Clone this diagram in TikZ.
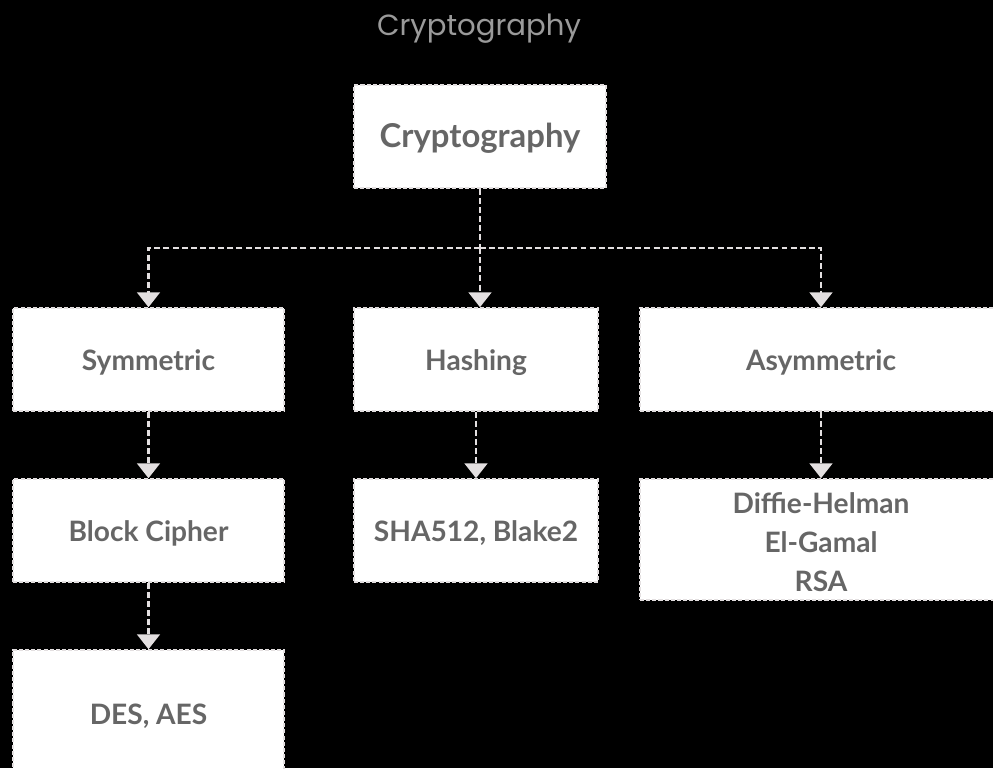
\documentclass[tikz,border=0pt]{standalone}
\usepackage{fontspec}
\setmainfont{Lato}
\newfontfamily\titlefont{Poppins}
\usetikzlibrary{arrows.meta, positioning, calc}
\definecolor{edgegray}{HTML}{E3DFE0}
\definecolor{textgray}{HTML}{666666}
\definecolor{titlegray}{HTML}{9A9A9A}
\tikzstyle{box} = [
    rectangle,
    draw=edgegray,
    fill=white,
    line width=0.9pt,
    dash pattern=on 2.3pt off 1.2pt,
    text=textgray,
    font=\bfseries\fontsize{16}{22}\selectfont,
    align=center,
    text height=14.4pt,
    text depth=1.6pt,
    inner sep=0pt
]
\tikzstyle{link} = [
    -{Triangle[width=13pt,length=8.5pt,fill=edgegray]},
    draw=edgegray,
    line width=1.4pt,
    dash pattern=on 3.4pt off 1.8pt
]

\begin{document}
\begin{tikzpicture}[x=0.02cm, y=-0.02cm]
        % Background
        \fill[black] (0,0) rectangle (993,768);
        \useasboundingbox (0,0) rectangle (993,768);

        % Title
        \node[text=titlegray, font=\titlefont\fontsize{16.6}{18}\selectfont] (title) at (479,29) {Cryptography};

        % Root
        \node[box, minimum width=252*0.02cm, minimum height=103*0.02cm,
              font=\bfseries\fontsize{18.7}{22}\selectfont] (crypto) at (480,136.5) {Cryptography};

        % Second level
        \node[box, minimum width=271*0.02cm, minimum height=103*0.02cm] (sym) at (148.5,359.5) {Symmetric};
        \node[box, minimum width=244*0.02cm, minimum height=103*0.02cm] (hash) at (476,359.5) {Hashing};
        \node[box, minimum width=362*0.02cm, minimum height=103*0.02cm] (asym) at (821,359.5) {Asymmetric};

        % Third level
        \node[box, minimum width=271*0.02cm, minimum height=103*0.02cm] (block) at (148.5,530.5) {Block Cipher};
        \node[box, minimum width=244*0.02cm, minimum height=103*0.02cm] (sha) at (476,530.5) {SHA512, Blake2};
        \node[box, minimum width=362*0.02cm, minimum height=121*0.02cm,
              text height=, text depth=] (dh) at (821,539.5) {\rule{0pt}{15pt}Diffie-Helman\\El-Gamal\\RSA};

        % Fourth level
        \node[box, minimum width=271*0.02cm, minimum height=126*0.02cm] (des) at (148.5,713) {DES, AES};

        % Connectors
        \coordinate (bus) at (480,248);
        \draw[link, -] (crypto.south) -- (bus);
        \draw[link] (bus) -| (sym.north);
        \draw[link] (bus) -- (bus |- hash.north);
        \draw[link] (bus) -| (asym.north);
        \draw[link] (sym.south) -- (block.north);
        \draw[link] (block.south) -- (des.north);
        \draw[link] (hash.south) -- (sha.north);
        \draw[link] (asym.south) -- (dh.north);
    \end{tikzpicture}
\end{document}
